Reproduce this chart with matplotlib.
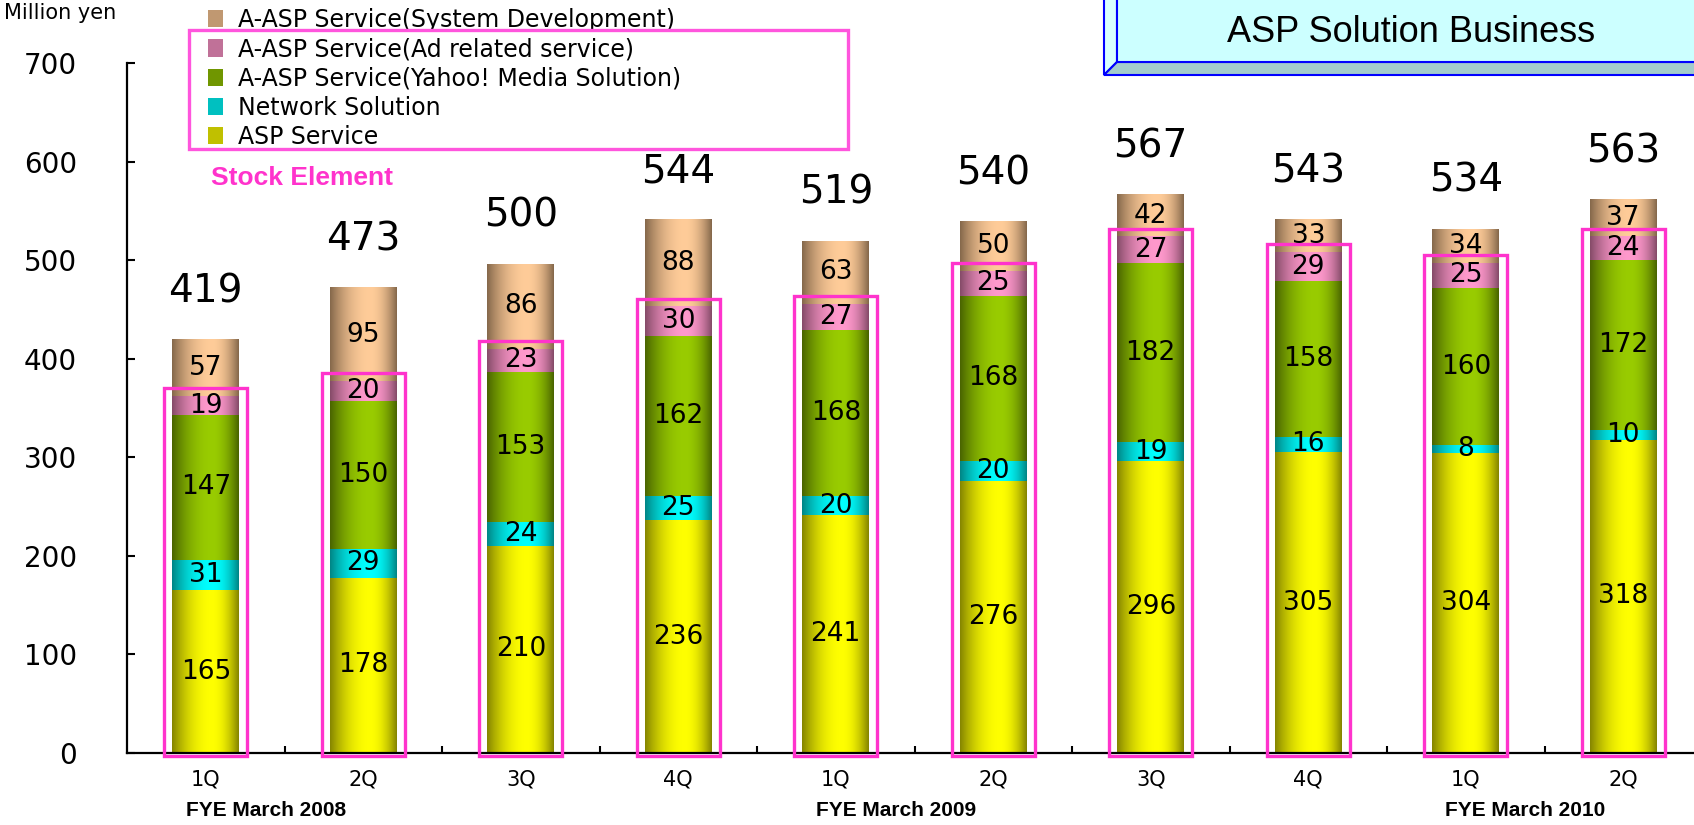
import numpy as np
import matplotlib
matplotlib.use('Agg')
import matplotlib.pyplot as plt
from matplotlib.patches import Rectangle, Polygon

quarters = ['1Q', '2Q', '3Q', '4Q', '1Q', '2Q', '3Q', '4Q', '1Q', '2Q']
fiscal_years = ['FYE March 2008', 'FYE March 2009', 'FYE March 2010']
fiscal_year_idx = [0, 4, 8]
asp_service = [165, 178, 210, 236, 241, 276, 296, 305, 304, 318]
network_solution = [31, 29, 24, 25, 20, 20, 19, 16, 8, 10]
yahoo_media = [147, 150, 153, 162, 168, 168, 182, 158, 160, 172]
ad_related = [19, 20, 23, 30, 27, 25, 27, 29, 25, 24]
system_dev = [57, 95, 86, 88, 63, 50, 42, 33, 34, 37]
totals = [419, 473, 500, 544, 519, 540, 567, 543, 534, 563]

# name, values, dark edge colour, light centre colour
series = [
    ('ASP Service', asp_service, (128, 128, 0), (255, 255, 0)),
    ('Network Solution', network_solution, (0, 128, 128), (0, 255, 255)),
    ('A-ASP Service(Yahoo! Media Solution)', yahoo_media, (70, 96, 0), (153, 204, 0)),
    ('A-ASP Service(Ad related service)', ad_related, (128, 72, 100), (255, 153, 204)),
    ('A-ASP Service(System Development)', system_dev, (128, 100, 72), (255, 204, 153)),
]

W, H = 1694, 825
fig = plt.figure(figsize=(W / 100, H / 100), dpi=100)
ax = fig.add_axes([127 / W, 72 / H, 1575 / W, 690 / H])


def gradient(dark, light, n=64, peak=0.6):
    t = np.linspace(0, 1, n)
    f = np.where(t < peak, 1 - ((peak - t) / peak) ** 2, 1 - ((t - peak) / (1 - peak)) ** 2)
    f = 0.05 + 0.95 * f
    d = np.array(dark) / 255
    l = np.array(light) / 255
    return (d[None, :] + f[:, None] * (l - d)[None, :])[None, :, :]


x = np.arange(len(quarters))
bottom = np.zeros(len(x))
handles = []
for name, vals, dark, light in series:
    vals = np.array(vals)
    mid = tuple((np.array(dark) + np.array(light)) / 2 / 255)
    bars = ax.bar(x, vals, width=0.425, bottom=bottom, color=mid, label=name, zorder=2)
    img = gradient(dark, light)
    for b in bars:
        ax.imshow(img, extent=[b.get_x(), b.get_x() + b.get_width(), b.get_y(), b.get_y() + b.get_height()],
                  aspect='auto', interpolation='bilinear', zorder=2.5)
    ax.bar_label(bars, label_type='center', fontsize=19, zorder=5)
    handles.append(bars)
    bottom += vals

# stock element boxes (everything except system development)
stock = np.array(asp_service) + np.array(network_solution) + np.array(yahoo_media) + np.array(ad_related)
for i, s in enumerate(stock):
    ax.add_patch(Rectangle((i - 0.265, -3), 0.53, s + 11, fill=False, edgecolor='#FF33CC',
                           lw=2.4, zorder=4, clip_on=False))

for i, t in enumerate(totals):
    ax.annotate(str(t), (x[i], bottom[i]), xytext=(0, 35), textcoords='offset points',
                ha='center', va='center', fontsize=28)

ax.set_xlim(-0.5, 9.5)
ax.set_ylim(0, 700)
ax.set_yticks(range(0, 701, 100))
ax.set_xticks(x, quarters)
ax.set_xticks(x[:-1] + 0.5, minor=True)
ax.tick_params(axis='x', which='major', length=0, labelsize=15, pad=12)
ax.tick_params(axis='x', which='minor', direction='in', length=5, width=1.5)
ax.tick_params(axis='y', direction='in', length=6, width=1.5, labelsize=20, pad=36)
for sp in ['top', 'right']:
    ax.spines[sp].set_visible(False)
for sp in ['left', 'bottom']:
    ax.spines[sp].set_linewidth(1.6)

for name, i in zip(fiscal_years, fiscal_year_idx):
    ax.text(i + 0.38, -0.083, name, transform=ax.get_xaxis_transform(), ha='center', va='center',
            fontsize=15, fontweight='bold', family='Liberation Sans')

leg = ax.legend([h for h in handles[::-1]], [s[0] for s in series[::-1]], loc='upper left',
                bbox_to_anchor=(208 / W, 1 - 8 / H), bbox_transform=fig.transFigure, frameon=False,
                fontsize=17, handlelength=0.65, handleheight=0.75, handletextpad=0.6,
                labelspacing=0.22, borderpad=0, borderaxespad=0)


def fp(px, py):
    return (px / W, 1 - py / H)


fig.add_artist(Rectangle(fp(189, 149), 659 / W, 119 / H, fill=False, edgecolor='#FF55DD', lw=2.4,
                         transform=fig.transFigure))
fig.text(211 / W, 1 - 178 / H, 'Stock Element', color='#FF33CC', fontsize=19, fontweight='bold',
         family='Liberation Sans', va='center')
fig.text(4 / W, 1 - 3 / H, 'Million yen', fontsize=15, va='top')

# title box with bevel
fig.add_artist(Polygon([fp(1104, -10), fp(1104, 75), fp(1117, 62), fp(1117, -10)], closed=True,
                       facecolor='#D8FFFF', edgecolor='#0000FF', lw=1.5, transform=fig.transFigure))
fig.add_artist(Polygon([fp(1104, 75), fp(1710, 75), fp(1710, 62), fp(1117, 62)], closed=True,
                       facecolor='#A3CCCC', edgecolor='#0000FF', lw=1.5, transform=fig.transFigure))
fig.add_artist(Rectangle(fp(1117, 62), 600 / W, 80 / H, facecolor='#CCFFFF', edgecolor='#0000FF',
                         lw=1.5, transform=fig.transFigure))
fig.text(1411 / W, 1 - 32 / H, 'ASP Solution Business', fontsize=26, family='Liberation Sans',
         ha='center', va='center')

fig.savefig('out.png', dpi=100)
